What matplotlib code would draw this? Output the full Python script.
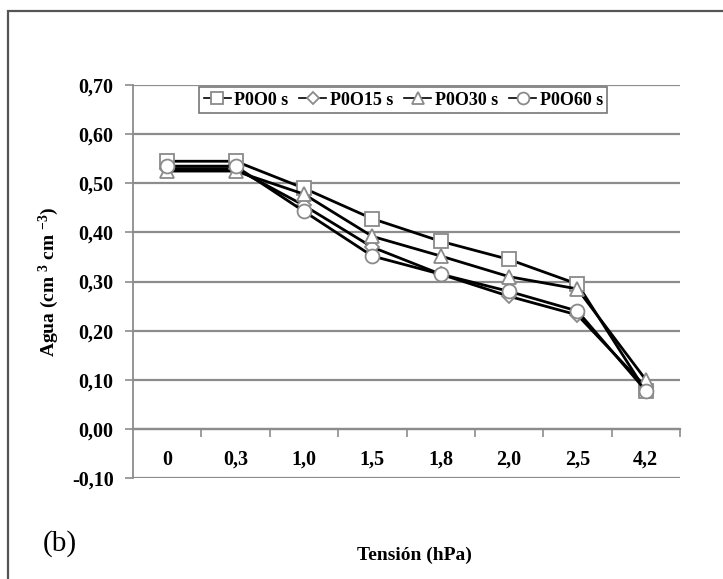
import matplotlib.pyplot as plt
from matplotlib.patches import Rectangle

plt.rcParams["font.family"] = ["Liberation Serif", "DejaVu Serif"]
plt.rcParams["mathtext.default"] = "regular"

GRID = "#8c8c8c"
EDGE = "#8a8a8a"

categories = ["0", "0,3", "1,0", "1,5", "1,8", "2,0", "2,5", "4,2"]
series_names = ["P0O0 s", "P0O15 s", "P0O30 s", "P0O60 s"]
p0o0 = [0.545, 0.545, 0.490, 0.428, 0.382, 0.345, 0.295, 0.077]
p0o15 = [0.530, 0.530, 0.455, 0.370, 0.315, 0.270, 0.232, 0.085]
p0o30 = [0.525, 0.525, 0.478, 0.392, 0.352, 0.310, 0.285, 0.100]
p0o60 = [0.535, 0.535, 0.443, 0.352, 0.315, 0.280, 0.240, 0.078]
markers = ["s", "D", "^", "o"]
msizes = [10, 7, 10, 10]
y_ticks = [-0.10, 0.00, 0.10, 0.20, 0.30, 0.40, 0.50, 0.60, 0.70]

fig = plt.figure(figsize=(7.23, 5.79), dpi=100)
ax = fig.add_axes([0.184, 0.1744, 0.7565, 0.6786])

# outer frame of the figure
fig.patches.append(Rectangle((0.011, -0.05), 1.1, 1.031, transform=fig.transFigure,
                             fill=False, edgecolor="#555555", linewidth=1.6))

x = range(len(categories))
for vals, name, m, ms in zip([p0o0, p0o15, p0o30, p0o60], series_names, markers, msizes):
    ax.plot(x, vals, color="black", linewidth=2.0, marker=m, markersize=ms,
            markerfacecolor="white", markeredgecolor=EDGE, markeredgewidth=1.3,
            label=name, zorder=3)

ax.set_xlim(-0.5, len(categories) - 0.5)
ax.set_ylim(-0.1, 0.7)
ax.set_yticks(y_ticks)
ax.set_yticklabels([f"{v:.2f}".replace(".", ",") for v in y_ticks],
                   fontsize=14.5, fontweight="bold")
ax.yaxis.grid(True, color=GRID, linewidth=1.6)
ax.set_axisbelow(True)

ax.spines["top"].set_visible(False)
ax.spines["right"].set_visible(False)
ax.spines["left"].set_color(GRID)
ax.spines["left"].set_linewidth(1.3)
ax.spines["bottom"].set_position(("data", 0))
ax.spines["bottom"].set_color(GRID)
ax.spines["bottom"].set_linewidth(1.6)
ax.tick_params(axis="y", length=6, width=1.2, color=GRID, pad=8)

ax.set_xticks(list(x))
ax.set_xticklabels(categories, fontsize=14.5, fontweight="bold")
ax.set_xticks([i + 0.5 for i in x], minor=True)
ax.tick_params(axis="x", which="major", length=0, pad=15)
ax.tick_params(axis="x", which="minor", length=6, width=1.2, color=GRID, direction="out")

ax.set_ylabel("Agua (cm $^{3}$ cm $^{-3}$)", fontsize=14, fontweight="bold", labelpad=8)
fig.text(0.573, 0.04, "Tensión (hPa)", ha="center", va="center",
         fontsize=14, fontweight="bold")
fig.text(0.083, 0.062, "(b)", ha="center", va="center", fontsize=21)

leg = ax.legend(loc="upper center", bbox_to_anchor=(0.494, 0.995), ncol=4,
                frameon=True, fancybox=False,
                prop={"size": 13, "weight": "bold"}, handlelength=1.5,
                handletextpad=0.2, columnspacing=0.6, borderpad=0.25,
                borderaxespad=0.0, markerscale=0.85)
leg.get_frame().set_edgecolor("#555555")
leg.get_frame().set_linewidth(1.2)
for h in leg.legend_handles:
    h.set_linewidth(1.2)

fig.savefig("out.png", dpi=100)
